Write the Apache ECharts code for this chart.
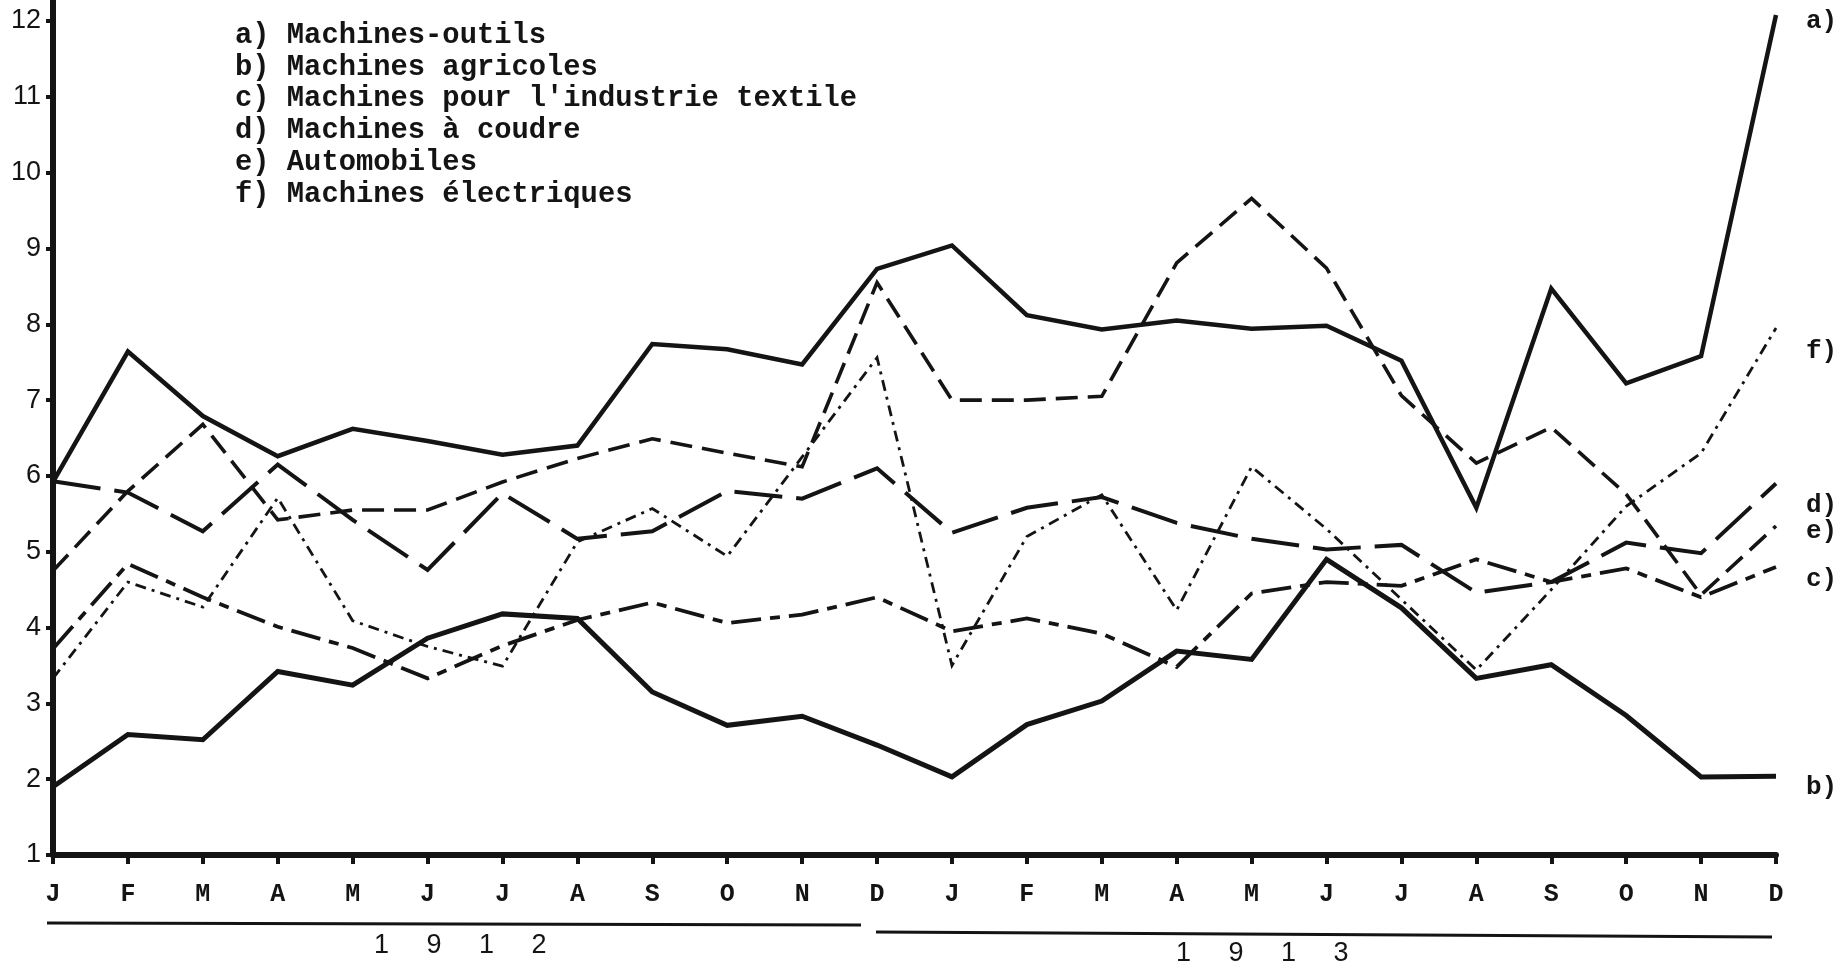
<!DOCTYPE html>
<html>
<head>
<meta charset="utf-8">
<script src="https://cdn.jsdelivr.net/npm/echarts@6/dist/echarts.min.js"></script>
<style>
html,body{margin:0;padding:0;background:#fff;}
#chart{width:1844px;height:968px;}
</style>
</head>
<body>
<div id="chart"></div>
<script>
// ---- data ----
var months = ['J','F','M','A','M','J','J','A','S','O','N','D','J','F','M','A','M','J','J','A','S','O','N','D'];
var yTicks = [1,2,3,4,5,6,7,8,9,10,11,12];
var years = ['1     9     1     2', '1     9     1     3'];
var legendLines = [
  'a) Machines-outils',
  'b) Machines agricoles',
  "c) Machines pour l'industrie textile",
  'd) Machines à coudre',
  'e) Automobiles',
  'f) Machines électriques'
];
var endTags = ['a)','b)','c)','d)','e)','f)'];

var machinesOutils   = [5.92,7.64,6.79,6.26,6.62,6.46,6.28,6.40,7.74,7.67,7.47,8.73,9.04,8.12,7.93,8.05,7.94,7.98,7.52,5.58,8.47,7.22,7.58,12.08];
var machinesAgric    = [1.90,2.59,2.52,3.42,3.24,3.86,4.18,4.12,3.15,2.71,2.83,2.45,2.03,2.72,3.03,3.69,3.58,4.90,4.26,3.33,3.51,2.84,2.03,2.04];
var machinesTextile  = [3.72,4.84,4.40,4.01,3.73,3.33,3.76,4.10,4.33,4.06,4.17,4.40,3.95,4.12,3.92,3.48,4.45,4.60,4.55,4.90,4.60,4.78,4.40,4.80];
var machinesCoudre   = [5.93,5.78,5.27,6.15,5.42,4.76,5.77,5.17,5.27,5.80,5.70,6.10,5.25,5.58,5.72,5.38,5.17,5.03,5.09,4.46,4.60,5.12,4.98,5.90];
var automobiles      = [4.75,5.80,6.68,5.42,5.55,5.55,5.92,6.23,6.49,6.30,6.12,8.55,7.00,7.00,7.05,8.81,9.66,8.74,7.06,6.17,6.64,5.76,4.43,5.34];
var machinesElec     = [3.33,4.60,4.27,5.71,4.09,3.75,3.49,5.13,5.57,4.94,6.25,7.56,3.50,5.20,5.75,4.23,6.12,5.30,4.37,3.44,4.50,5.60,6.30,7.95];

// ---- chart ----
var ink = '#141414';
var chart = echarts.init(document.getElementById('chart'), null, {renderer:'canvas'});
var mono = "'Liberation Mono', 'DejaVu Sans Mono', monospace";
var sans = "'Liberation Sans', Arial, sans-serif";

function ser(name, data, width, type){
  return {
    name: name, type: 'line', data: data, symbol: 'none', clip: false,
    lineStyle: {color: ink, width: width, type: type, cap: 'butt', join: 'miter'},
    silent: true
  };
}

var legendGraphics = legendLines.map(function(t, i){
  return {type:'text', left: 235, top: 36 + i*31.8 - 15,
    style:{text: t, font: 'bold 28.8px ' + mono, fill: ink}};
});
var tagY = {'a)':22,'f)':352,'d)':506,'e)':532,'c)':580,'b)':788};
var tagGraphics = endTags.map(function(t){
  return {type:'text', left: 1806, top: tagY[t] - 14,
    style:{text: t, font: 'bold 26px ' + mono, fill: ink}};
});

var option = {
  animation: false,
  backgroundColor: '#ffffff',
  grid: {left: 53, right: 68, top: 21, bottom: 113},
  xAxis: {
    type: 'category', data: months, boundaryGap: false,
    axisLine: {show: true, lineStyle: {color: ink, width: 6}},
    axisTick: {show: true, alignWithLabel: true, length: 9, lineStyle: {color: ink, width: 4}},
    axisLabel: {color: ink, fontFamily: mono, fontWeight: 'bold', fontSize: 25, margin: 27, interval: 0},
    splitLine: {show: false}
  },
  yAxis: {
    type: 'value', min: 1, max: 12, interval: 1,
    axisLine: {show: true, lineStyle: {color: ink, width: 6}},
    axisTick: {show: true, length: 7, lineStyle: {color: ink, width: 4}},
    axisLabel: {color: ink, fontFamily: sans, fontSize: 27, margin: 12,
      formatter: function(v){ return yTicks.indexOf(v) >= 0 ? String(v) : ''; }},
    splitLine: {show: false}
  },
  series: [
    ser(legendLines[0], machinesOutils, 4.5, 'solid'),
    ser(legendLines[1], machinesAgric, 5, 'solid'),
    ser(legendLines[2], machinesTextile, 3.8, [30, 9, 10, 9]),
    ser(legendLines[3], machinesCoudre, 4, [48, 14]),
    ser(legendLines[4], automobiles, 3.6, [22, 10]),
    ser(legendLines[5], machinesElec, 2.8, [11, 6, 3, 6])
  ],
  graphic: [
    {type:'line', shape:{x1:53, y1:0, x2:53, y2:22}, style:{stroke: ink, lineWidth: 6}},
    {type:'line', shape:{x1:47, y1:923, x2:861, y2:925}, style:{stroke: ink, lineWidth: 3}},
    {type:'line', shape:{x1:876, y1:932, x2:1772, y2:937}, style:{stroke: ink, lineWidth: 3}},
    {type:'text', left: 374, top: 932, style:{text: years[0], font: '27px ' + sans, fill: ink}},
    {type:'text', left: 1176, top: 940, style:{text: years[1], font: '27px ' + sans, fill: ink}}
  ].concat(legendGraphics).concat(tagGraphics)
};
chart.setOption(option);
</script>
</body>
</html>
